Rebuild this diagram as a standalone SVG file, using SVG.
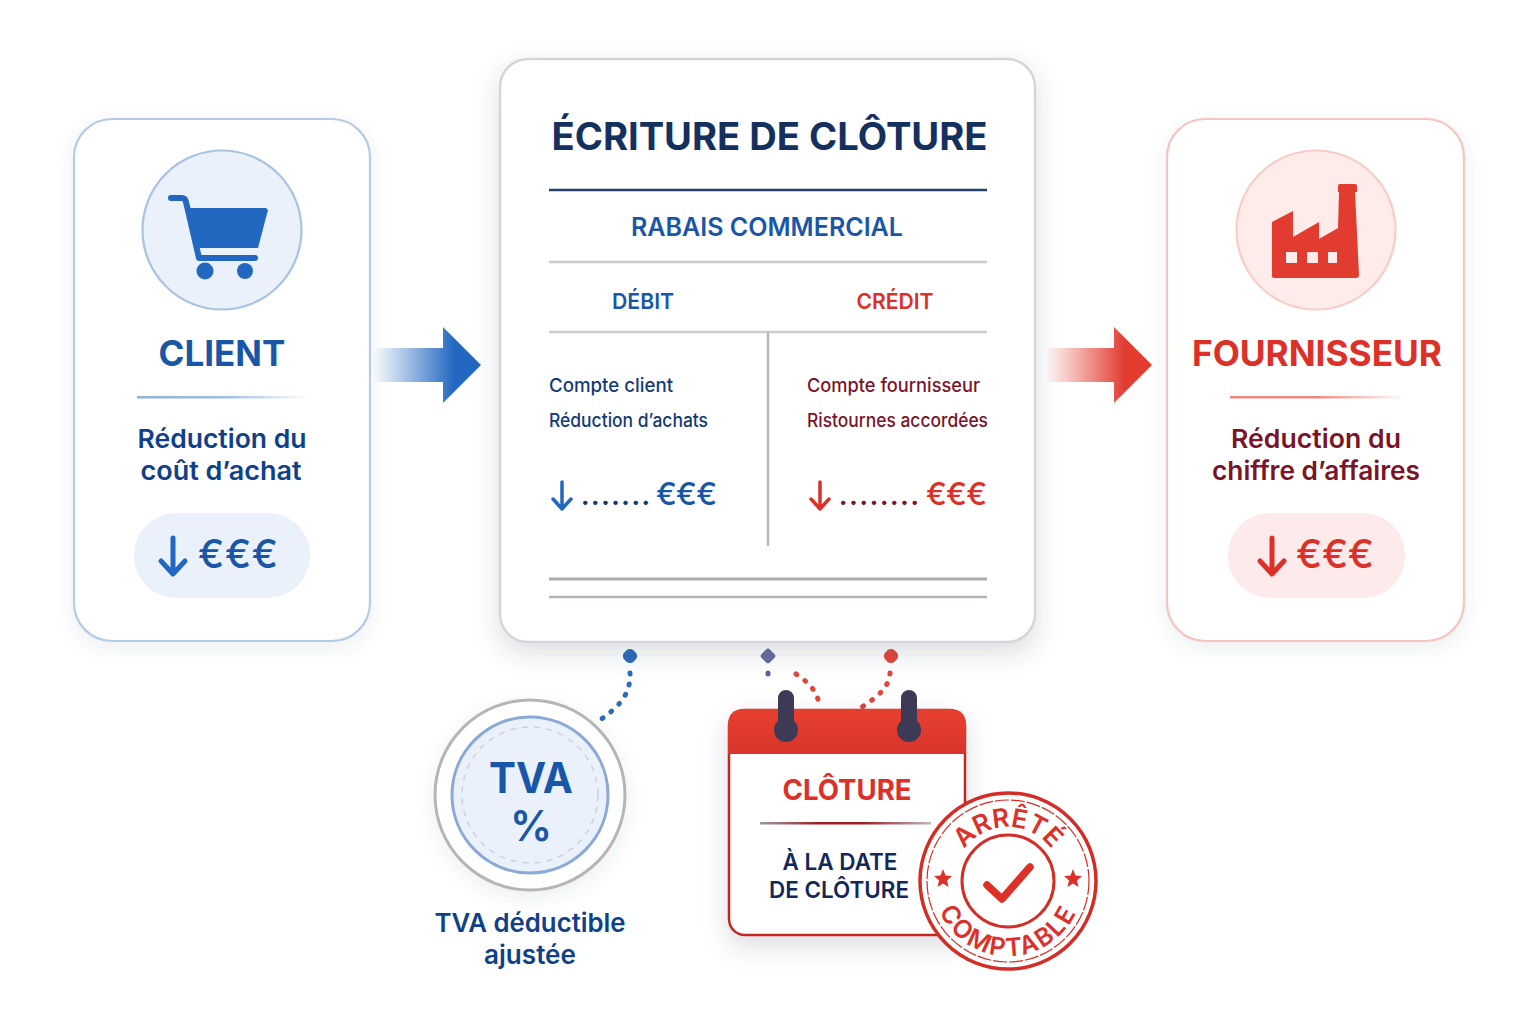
<svg xmlns="http://www.w3.org/2000/svg" width="1536" height="1024" viewBox="0 0 1536 1024">
<style>
text{font-family:"Inter","Noto Sans","Liberation Sans",sans-serif}
.m{text-anchor:middle}
.b{fill:#1a56a8}.r{fill:#dc3028}
.n{fill:#123a7a}.d{fill:#7a1428}.t{fill:#10408a}
.g{stroke:#c9ccd0;stroke-width:2.500;fill:none}
.dot{fill:none;stroke-width:5;stroke-linecap:round;stroke-dasharray:1 10}
</style>
<defs>
<filter id="sh" x="-20%" y="-20%" width="140%" height="140%"><feDropShadow dx="0" dy="10" stdDeviation="12" flood-color="#3a4a60" flood-opacity=".18"/></filter>
<filter id="sh2" x="-20%" y="-20%" width="140%" height="140%"><feDropShadow dx="0" dy="6" stdDeviation="9" flood-color="#3a4a60" flood-opacity=".09"/></filter>
<linearGradient id="ab"><stop offset="0" stop-color="#2368c0" stop-opacity="0"/><stop offset=".75" stop-color="#2368c0"/></linearGradient>
<linearGradient id="ar"><stop offset="0" stop-color="#e23b30" stop-opacity="0"/><stop offset=".75" stop-color="#e23b30"/></linearGradient>
<linearGradient id="lb"><stop offset="0" stop-color="#8fb2de"/><stop offset=".5" stop-color="#9dbde4"/><stop offset="1" stop-color="#9dbde4" stop-opacity="0"/></linearGradient>
<linearGradient id="lr"><stop offset="0" stop-color="#ee8a80"/><stop offset=".5" stop-color="#ee8a80"/><stop offset="1" stop-color="#ee8a80" stop-opacity="0"/></linearGradient>
<linearGradient id="lc"><stop offset="0" stop-color="#9a9aa2"/><stop offset=".35" stop-color="#a01c20"/><stop offset=".6" stop-color="#a01c20"/><stop offset="1" stop-color="#b8b8bc"/></linearGradient>
<linearGradient id="hd" x1="0" y1="0" x2="0" y2="1"><stop offset="0" stop-color="#e5402f"/><stop offset="1" stop-color="#d9342a"/></linearGradient>
<path id="arcTop" d="M954 881A54 54 0 0 1 1062 881" fill="none"/>
<path id="arcBot" d="M933 881A75 75 0 0 0 1083 881" fill="none"/>
</defs>
<rect width="1536" height="1024" fill="#fff"/>

<g id="connectors">
<path d="M373 348H443V327L481 365 443 403V382H373Z" fill="url(#ab)"/>
<path d="M1045 348H1114V327L1152 365 1114 403V382H1045Z" fill="url(#ar)"/>
<path class="dot" stroke="#2a6cbd" d="M630 673C631 695 618 708 597 722"/>
<path class="dot" stroke="#5a639c" d="M768 673V682"/>
<path class="dot" stroke="#e2453a" d="M796 674C808 682 819 692 819 707"/>
<path class="dot" stroke="#e2453a" d="M890 673C889 688 877 697 862 707"/>
<rect x="623.500" y="649.500" width="13" height="13" rx="5" transform="rotate(45 630 656)" fill="#2a6cbd"/>
<rect x="762" y="650" width="12" height="12" rx="3" transform="rotate(45 768 656)" fill="#666c9e"/>
<rect x="884.500" y="649.500" width="13" height="13" rx="5" transform="rotate(45 891 656)" fill="#e2453a"/>
</g>

<g id="client">
<rect x="74" y="119" width="296" height="522" rx="38" fill="#fff" stroke="#b4cbe6" stroke-width="2.200" filter="url(#sh2)"/>
<circle cx="222" cy="230" r="79.500" fill="#eaf1fb" stroke="#a9c3e3" stroke-width="2.200"/>
<path d="M171 198H182Q185 198 186 202L199 258H255" fill="none" stroke="#2368c0" stroke-width="6" stroke-linecap="round" stroke-linejoin="round"/>
<path d="M188 208H266L268 210 258 248H197Z" fill="#2368c0"/>
<circle cx="205" cy="271" r="8.500" fill="#2368c0"/><circle cx="245" cy="271" r="8" fill="#2368c0"/>
<text x="222" y="366" class="m b" font-size="35" font-weight="700">CLIENT</text>
<rect x="137" y="396" width="174" height="2.500" fill="url(#lb)"/>
<text x="222" y="448" class="m t" font-size="26" font-weight="600" textLength="169" lengthAdjust="spacingAndGlyphs">Réduction du</text>
<text x="221" y="480" class="m t" font-size="26" font-weight="600" textLength="161" lengthAdjust="spacingAndGlyphs">coût d’achat</text>
<rect x="134" y="513" width="176" height="85" rx="42" fill="#eaf1fb"/>
<path d="M173 538V573M161 561L173 574 185 561" fill="none" stroke="#2368c0" stroke-width="5" stroke-linecap="round" stroke-linejoin="round"/>
<text x="198" y="568" class="b" font-size="39" font-weight="500" textLength="80" lengthAdjust="spacing">€€€</text>
</g>

<g id="ecriture">
<rect x="500" y="59" width="535" height="583" rx="28" fill="#fff" stroke="#d4d5d8" stroke-width="2.500" filter="url(#sh)"/>
<text x="769.500" y="150" class="m" font-size="38" font-weight="700" fill="#14305f" textLength="436" lengthAdjust="spacingAndGlyphs">ÉCRITURE DE CLÔTURE</text>
<path d="M549 190H987" stroke="#23406a" stroke-width="2.500"/>
<text x="767" y="236" class="m b" font-size="25" font-weight="600" textLength="272" lengthAdjust="spacingAndGlyphs">RABAIS COMMERCIAL</text>
<path class="g" d="M549 262H987M549 332H987"/>
<text x="643" y="309" class="m b" font-size="22" font-weight="600" textLength="62" lengthAdjust="spacingAndGlyphs">DÉBIT</text>
<text x="895" y="309" class="m r" font-size="22" font-weight="600" textLength="77" lengthAdjust="spacingAndGlyphs">CRÉDIT</text>
<path d="M768 333V546" stroke="#b4b6ba" stroke-width="2.500" fill="none"/>
<text x="549" y="392" class="n" font-size="18.500" font-weight="500" textLength="124" lengthAdjust="spacingAndGlyphs">Compte client</text>
<text x="549" y="427" class="n" font-size="18.500" font-weight="500" textLength="159" lengthAdjust="spacingAndGlyphs">Réduction d’achats</text>
<text x="807" y="392" class="d" font-size="18.500" font-weight="500" textLength="173" lengthAdjust="spacingAndGlyphs">Compte fournisseur</text>
<text x="807" y="427" class="d" font-size="18.500" font-weight="500" textLength="181" lengthAdjust="spacingAndGlyphs">Ristournes accordées</text>
<path d="M562 482V508M553 499L562 509 571 499" fill="none" stroke="#2368c0" stroke-width="3.500" stroke-linecap="round" stroke-linejoin="round"/>
<text x="581" y="505" class="n" font-size="24" font-weight="800" textLength="69" lengthAdjust="spacing">.......</text>
<text x="656" y="505" class="b" font-size="31" font-weight="500" textLength="61" lengthAdjust="spacing">€€€</text>
<path d="M820 482V508M811 499L820 509 829 499" fill="none" stroke="#dc3028" stroke-width="3.500" stroke-linecap="round" stroke-linejoin="round"/>
<text x="839" y="505" class="d" font-size="24" font-weight="800" textLength="80" lengthAdjust="spacing">........</text>
<text x="926" y="505" class="r" font-size="31" font-weight="500" textLength="61" lengthAdjust="spacing">€€€</text>
<path d="M549 579H987" stroke="#a9abb0" stroke-width="3"/>
<path d="M549 597H987" stroke="#b4b6ba" stroke-width="2.500"/>
</g>

<g id="fournisseur">
<rect x="1167" y="119" width="297" height="522" rx="38" fill="#fff" stroke="#f5c4bf" stroke-width="2.200" filter="url(#sh2)"/>
<circle cx="1316" cy="230" r="79.500" fill="#fdecea" stroke="#f8cdc8" stroke-width="2.200"/>
<path fill-rule="evenodd" fill="#e23b30" d="M1272 222L1293 211V237L1319 222V239L1338 228L1339 192H1338V186Q1338 184 1340 184H1355Q1357 184 1357 186V192H1355L1359 275Q1359 278 1356 278H1274Q1272 278 1272 276ZM1286 252V263H1297V252ZM1307 252V263H1318V252ZM1328 252V263H1337V252Z"/>
<text x="1317" y="366" class="m r" font-size="35" font-weight="700" textLength="250" lengthAdjust="spacingAndGlyphs">FOURNISSEUR</text>
<rect x="1230" y="396" width="176" height="2.500" fill="url(#lr)"/>
<text x="1316" y="448" class="m d" font-size="26" font-weight="600" textLength="170" lengthAdjust="spacingAndGlyphs">Réduction du</text>
<text x="1316" y="480" class="m d" font-size="26" font-weight="600" textLength="208" lengthAdjust="spacingAndGlyphs">chiffre d’affaires</text>
<rect x="1228" y="513" width="177" height="85" rx="42" fill="#fdeaea"/>
<path d="M1272 538V573M1260 561L1272 574 1284 561" fill="none" stroke="#dc3028" stroke-width="5" stroke-linecap="round" stroke-linejoin="round"/>
<text x="1296" y="568" class="r" font-size="39" font-weight="500" textLength="78" lengthAdjust="spacing">€€€</text>
</g>

<g id="tva">
<circle cx="530" cy="795" r="95" fill="#fff" stroke="#b3b5b8" stroke-width="3" filter="url(#sh2)"/>
<circle cx="530" cy="795" r="78" fill="#eaf1fb" stroke="#8aa9d8" stroke-width="3"/>
<circle cx="530" cy="795" r="68" fill="none" stroke="#c9d2de" stroke-width="1.500" stroke-dasharray="6 6"/>
<text x="531" y="793" class="m b" font-size="42" font-weight="700" textLength="84" lengthAdjust="spacingAndGlyphs">TVA</text>
<text x="531" y="841" class="m b" font-size="42" font-weight="600">%</text>
<text x="530" y="932" class="m t" font-size="26" font-weight="600" textLength="191" lengthAdjust="spacingAndGlyphs">TVA déductible</text>
<text x="530" y="964" class="m t" font-size="26" font-weight="600" textLength="92" lengthAdjust="spacingAndGlyphs">ajustée</text>
</g>

<g id="cloture">
<rect x="729" y="710" width="236" height="225" rx="16" fill="#fff" stroke="#c42822" stroke-width="2.500" filter="url(#sh)"/>
<path d="M728 754V725Q728 709 744 709H950Q966 709 966 725V754Z" fill="url(#hd)"/>
<path d="M778 730V698a8 8 0 0 1 16 0V730ZM901 730V698a8 8 0 0 1 16 0V730Z" fill="#3c3a55"/>
<circle cx="786" cy="730" r="12" fill="#3c3a55"/><circle cx="909" cy="730" r="12" fill="#3c3a55"/>
<text x="847" y="800" class="m r" font-size="28" font-weight="700" textLength="129" lengthAdjust="spacingAndGlyphs">CLÔTURE</text>
<rect x="760" y="822" width="171" height="2.500" fill="url(#lc)"/>
<text x="840" y="870" class="m" font-size="23" font-weight="600" fill="#13285a" textLength="115" lengthAdjust="spacingAndGlyphs">À LA DATE</text>
<text x="839" y="898" class="m" font-size="23" font-weight="600" fill="#13285a" textLength="140" lengthAdjust="spacingAndGlyphs">DE CLÔTURE</text>
</g>

<g id="arrete">
<circle cx="1008" cy="881" r="88" fill="#fff" stroke="#d42c26" stroke-width="3.500"/>
<circle cx="1008" cy="881" r="81" fill="none" stroke="#d42c26" stroke-width="1.200" stroke-dasharray="14 2"/>
<circle cx="1008" cy="881" r="46" fill="none" stroke="#d42c26" stroke-width="3"/>
<path d="M987 885L1002 899 1030 867" fill="none" stroke="#dc3028" stroke-width="7.500" stroke-linecap="round" stroke-linejoin="round"/>
<text class="m r" font-size="26" font-weight="600"><textPath href="#arcTop" startOffset="50%">ARRÊTÉ</textPath></text>
<text class="m r" font-size="25" font-weight="600" letter-spacing="2"><textPath href="#arcBot" startOffset="50%">COMPTABLE</textPath></text>
<path class="r" d="M943 869L945.500 875.500 952 876 947 880.500 948.500 887 943 883.500 937.500 887 939 880.500 934 876 940.500 875.500Z"/>
<path class="r" d="M1073 869L1075.500 875.500 1082 876 1077 880.500 1078.500 887 1073 883.500 1067.500 887 1069 880.500 1064 876 1070.500 875.500Z"/>
</g>
</svg>
